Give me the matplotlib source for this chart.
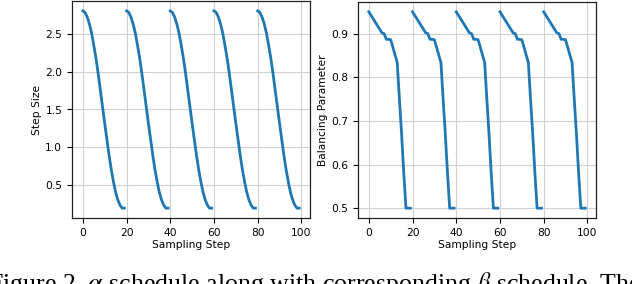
import matplotlib
matplotlib.use("Agg")
import matplotlib.pyplot as plt
import numpy as np

# one restart cycle (same shape repeats every 20 steps)
cycle_steps = [0, 1, 2, 3, 4, 5, 6, 7, 8, 9, 10, 11, 12, 13, 14, 15, 16, 17, 18, 19]
step_size = [2.80, 2.78, 2.72, 2.63, 2.51, 2.35, 2.18, 1.98, 1.76, 1.54,
             1.32, 1.11, 0.90, 0.71, 0.55, 0.41, 0.31, 0.24, 0.20, 0.20]
balancing = [0.950, 0.942, 0.934, 0.926, 0.918, 0.910, 0.902, 0.900, 0.887, 0.887,
             0.886, 0.869, 0.851, 0.834, 0.750, 0.670, 0.580, 0.500, 0.500, 0.500]
cycle_starts = [0, 20, 40, 60, 80]

x_ticks = [0, 20, 40, 60, 80, 100]
alpha_ticks = [0.5, 1.0, 1.5, 2.0, 2.5]
beta_ticks = [0.5, 0.6, 0.7, 0.8, 0.9]

caption = r"Figure 2. $\alpha$ schedule along with corresponding $\beta$ schedule. The"

plt.rcParams['font.family'] = 'DejaVu Sans'
plt.rcParams['font.size'] = 7.7
plt.rcParams['mathtext.fontset'] = 'stix'

fig = plt.figure(figsize=(6.32, 2.84), dpi=100)
ax1 = fig.add_axes([72/632, 66/284, 238/632, 217/284])
ax2 = fig.add_axes([358/632, 66/284, 238/632, 216/284])

blue = '#1f77b4'
for s in cycle_starts:
    xs = np.array(cycle_steps) + s
    ax1.plot(xs, step_size, color=blue, lw=2.0)
    ax2.plot(xs, balancing, color=blue, lw=2.0)

ax1.set_yticks(alpha_ticks)
ax2.set_yticks(beta_ticks)
ax1.set_ylabel("Step Size", labelpad=2)
ax2.set_ylabel("Balancing Parameter", labelpad=2)
for ax in (ax1, ax2):
    ax.set_xticks(x_ticks)
    ax.set_xlabel("Sampling Step", labelpad=1.5)
    ax.grid(True, color='#d0d0d0', lw=0.8)
    ax.set_axisbelow(True)
    for sp in ax.spines.values():
        sp.set_color('#222222')
        sp.set_linewidth(0.9)

# caption of the paper figure, cut by the crop at left/bottom/right
fig.text(-12/632, -0.024, caption, fontsize=18.6, family='Liberation Serif',
         va='baseline', ha='left')

fig.savefig("out.png", dpi=100)
